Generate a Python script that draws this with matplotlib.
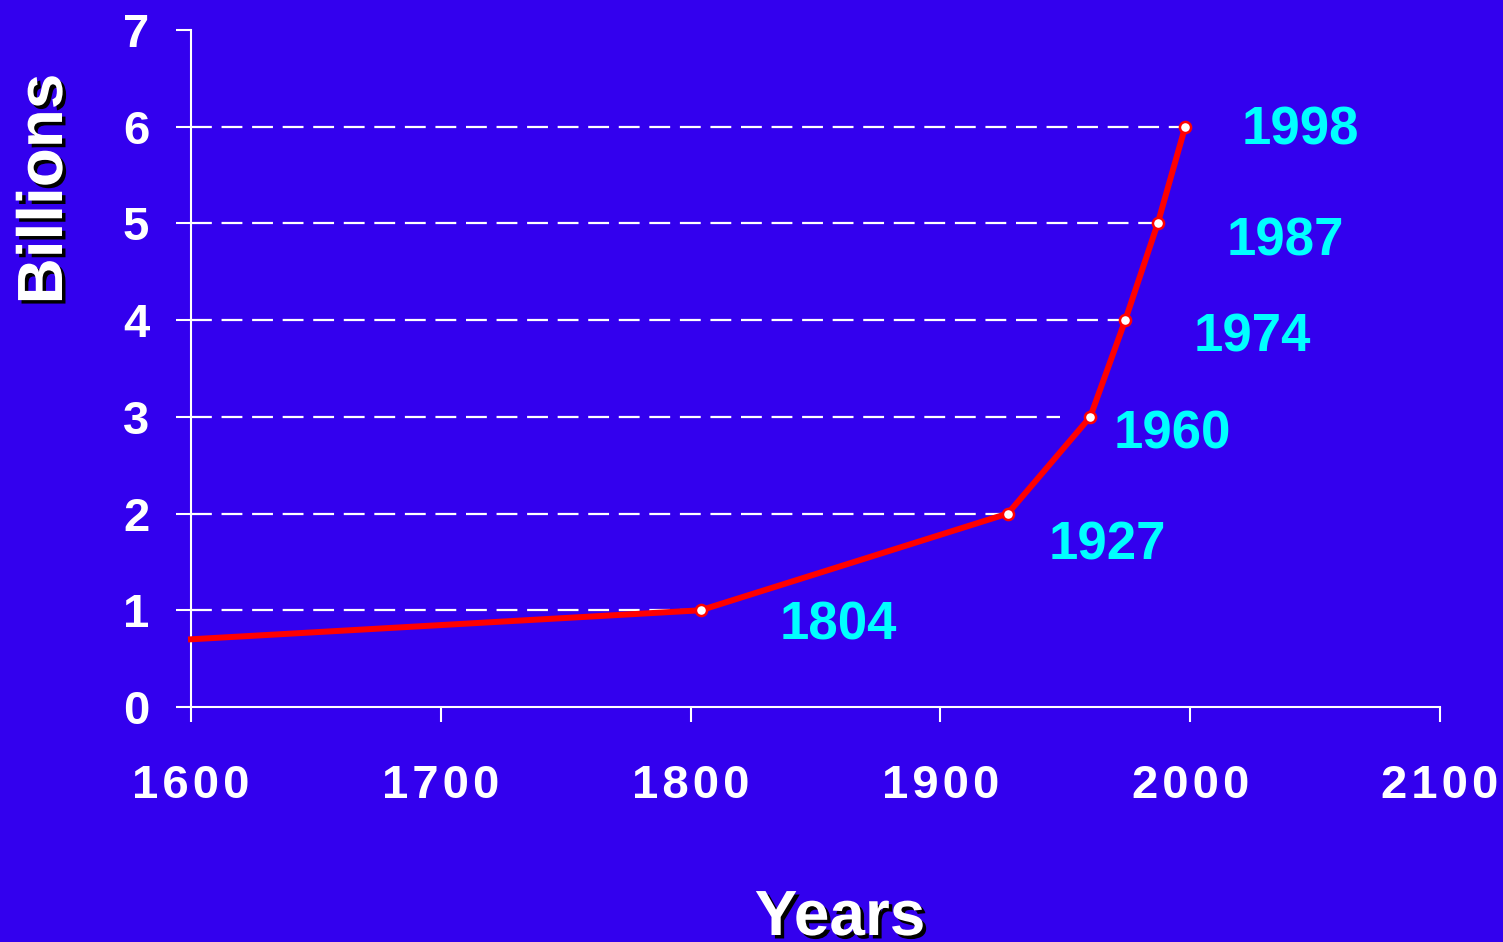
import matplotlib
matplotlib.use("Agg")
import matplotlib.pyplot as plt
import matplotlib.patheffects as pe

years = [1600, 1804, 1927, 1960, 1974, 1987, 1998]
billions = [0.7, 1, 2, 3, 4, 5, 6]
milestone_years = [1804, 1927, 1960, 1974, 1987, 1998]
milestone_values = [1, 2, 3, 4, 5, 6]
guide_ends = [1804, 1927, 1948, 1974, 1987, 1998]
label_x = [1859, 1967, 1993, 2025, 2038, 2044]
label_y = [0.84, 1.67, 2.82, 3.82, 4.81, 5.96]
xticks = [1600, 1700, 1800, 1900, 2000, 2100]
yticks = [0, 1, 2, 3, 4, 5, 6, 7]

BG = "#3300EE"
plt.rcParams['font.family'] = ['Liberation Sans', 'DejaVu Sans']
plt.rcParams['lines.scale_dashes'] = False

fig = plt.figure(figsize=(15.03, 9.42), dpi=100, facecolor=BG)
ax = fig.add_axes([191/1503, 1-707/942, (1440-191)/1503, (707-30)/942])
ax.set_facecolor(BG)
ax.set_xlim(1600, 2100)
ax.set_ylim(0, 7)

for v, xe in zip(milestone_values, guide_ends):
    ax.plot([1600, xe], [v, v], color='white', lw=1.6, ls=(0, (15, 7)), zorder=2)

ax.plot(years, billions, color='#FF0000', lw=4.3, zorder=3, clip_on=False,
        solid_capstyle='projecting')
ax.plot(milestone_years, milestone_values, ls='none', marker='o', ms=8,
        mfc='white', mec='#FF0000', mew=1.8, zorder=4, clip_on=False)

for yr, lx, ly in zip(milestone_years, label_x, label_y):
    ax.text(lx, ly, str(yr), color='#00FFFF', fontsize=38, fontweight='bold',
            ha='center', va='center')

for s in ['top', 'right']:
    ax.spines[s].set_visible(False)
for s in ['left', 'bottom']:
    ax.spines[s].set_color('white')
    ax.spines[s].set_linewidth(1.5)

ax.set_xticks(xticks)
ax.set_xticklabels(['\u200a'.join(str(t)) for t in xticks])
ax.set_yticks(yticks)
ax.tick_params(axis='both', direction='out', length=11, width=1.5, colors='white')
ax.tick_params(axis='x', pad=30, labelsize=34)
ax.tick_params(axis='y', pad=19, labelsize=34)
for lab in ax.get_xticklabels() + ax.get_yticklabels():
    lab.set_fontweight('bold')

shadow = [pe.withSimplePatchShadow(offset=(2.5, -2.5), shadow_rgbFace='black', alpha=1.0)]
fig.text(45/1503, 1-189/942, 'Billions', rotation=90, color='white', fontsize=46,
         fontweight='bold', ha='center', va='center', path_effects=shadow)
fig.text(840/1503, 1-935/942, 'Years', color='white', fontsize=46,
         fontweight='bold', ha='center', va='baseline', path_effects=shadow)

fig.savefig('out.png', dpi=100, facecolor=BG)
